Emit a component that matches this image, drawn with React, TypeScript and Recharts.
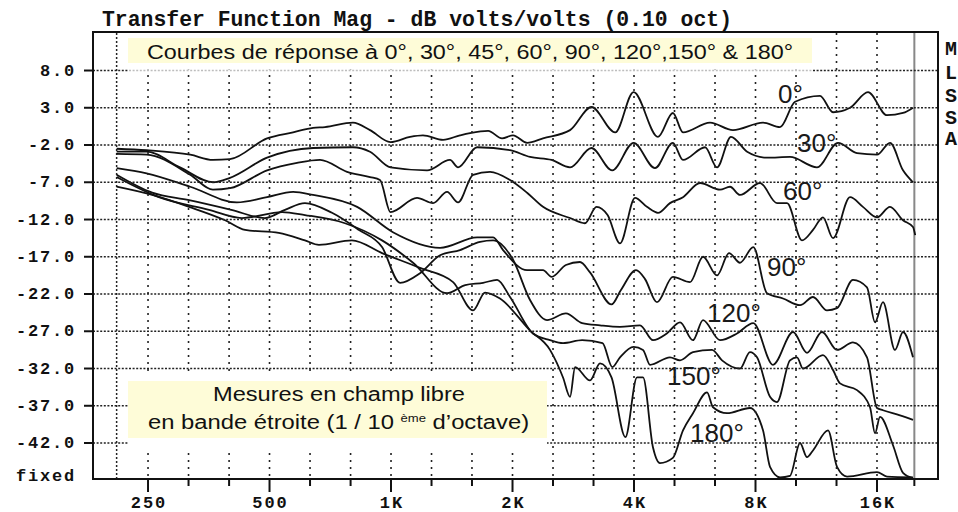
import React from "react";
import { LineChart, Line, XAxis, YAxis, ReferenceLine } from "recharts";

// frequency (Hz) / level (dB) pairs
const resp0 = [
  [209, -2.5], [248, -2.7], [318, -3.3], [362, -4.0], [399, -3.9], [493, -1.1], [572, -0.3],
  [641, 0.3], [686, 0.4], [805, 1.0], [887, 0.0], [997, -1.6], [1115, -0.9], [1200, -0.7],
  [1346, -1.3], [1482, -0.7], [1570, -0.4], [1740, -0.1], [1884, -1.1], [2006, -0.7],
  [2173, -1.7], [2380, -1.1], [2777, 0.0], [3138, 3.1], [3593, -0.3], [3990, 5.1],
  [4586, -0.9], [4993, 2.3], [5290, -0.3], [6171, 1.0], [7036, 0.0], [8350, 1.0], [9200, 0.4],
  [10025, 3.8], [11558, 4.6], [12449, 2.4], [13717, 3.0], [15200, 5.1], [16939, 2.0],
  [18560, 2.3], [19648, 3.0],
];
const resp30 = [
  [209, -2.9], [248, -2.9], [300, -5.0], [362, -7.0], [399, -6.4], [493, -3.7], [641, -2.4],
  [805, -2.3], [887, -2.9], [997, -5.0], [1228, -5.4], [1400, -4.0], [1466, -5.0], [1634, -2.3],
  [1972, -2.7], [2210, -3.6], [2500, -4.0], [2777, -5.0], [3138, -2.4], [3533, -5.4],
  [3990, -1.7], [4509, -5.1], [4993, -1.7], [5290, -4.0], [6000, -2.3], [6423, -5.0],
  [6956, -0.9], [7627, -2.9], [8542, -3.7], [9740, -3.6], [11361, -5.0], [12810, -1.7],
  [14277, -3.1], [16000, -3.3], [17232, -1.7], [18560, -5.4], [19648, -7.0],
];
const resp60 = [
  [209, -3.2], [248, -3.3], [318, -6.0], [362, -8.0], [399, -7.8], [493, -5.4], [585, -4.4],
  [667, -4.0], [778, -5.6], [887, -6.3], [939, -6.7], [997, -11.0], [1160, -9.1], [1271, -9.8],
  [1377, -8.3], [1466, -9.7], [1597, -6.0], [1759, -5.6], [1972, -6.7], [2173, -8.4],
  [2380, -10.3], [2777, -11.8], [3022, -12.5], [3230, -10.3], [3440, -11.4], [3693, -15.2],
  [4023, -9.1], [4306, -10.3], [4586, -11.1], [4911, -9.8], [5290, -9.0], [5829, -7.1],
  [6534, -8.0], [6917, -7.6], [7323, -8.7], [8209, -7.1], [9044, -9.8], [9575, -9.8],
  [10430, -14.8], [11106, -13.4], [11756, -11.7], [12449, -14.5], [13717, -9.0],
  [14765, -10.3], [16000, -11.7], [17232, -10.3], [18560, -12.1], [19648, -13.0], [19900, -14.1],
];
const resp90 = [
  [209, -5.1], [248, -5.8], [318, -7.6], [415, -9.7], [493, -9.0], [572, -8.3], [641, -8.7],
  [824, -10.3], [1011, -13.7], [1323, -15.8], [1634, -14.4], [1791, -14.4], [1895, -16.1],
  [2173, -18.8], [2380, -18.8], [2500, -19.7], [2712, -18.1], [2939, -17.7], [3112, -19.1],
  [3518, -23.4], [3709, -21.5], [4046, -18.8], [4260, -20.0], [4560, -23.1], [4993, -19.7],
  [5506, -20.4], [5930, -17.0], [6423, -19.5], [6880, -16.5], [7323, -17.8], [7900, -15.7],
  [8542, -21.9], [9358, -22.6], [10313, -23.5], [11106, -22.4], [12030, -24.2], [12737, -23.9],
  [13950, -20.1], [15112, -21.1], [15820, -25.8], [16557, -23.1], [17730, -29.5],
  [18560, -27.1], [19648, -30.5],
];
const resp120 = [
  [209, -6.0], [256, -8.4], [316, -9.4], [402, -10.7], [487, -11.8], [546, -10.7], [612, -9.8],
  [714, -11.1], [833, -13.4], [950, -15.7], [1053, -20.5], [1180, -19.2], [1323, -16.8],
  [1482, -16.1], [1662, -15.0], [1791, -14.8], [2006, -17.4], [2210, -22.8], [2435, -25.5],
  [2712, -24.6], [2975, -25.9], [3295, -26.2], [3693, -26.4], [4139, -26.2], [4458, -28.2],
  [4823, -27.3], [5201, -25.8], [5600, -28.2], [5930, -25.5], [6534, -28.2], [7199, -27.3],
  [7900, -25.9], [8839, -31.5], [9909, -27.1], [10733, -29.9], [11690, -27.1], [12737, -29.5],
  [13950, -28.5], [15112, -30.5], [16000, -37.3], [16557, -37.6], [18245, -38.3], [19648, -38.9],
];
const resp150 = [
  [209, -6.3], [266, -9.0], [354, -10.7], [427, -11.8], [537, -11.0], [612, -11.4], [769, -12.5],
  [950, -14.8], [1134, -17.8], [1377, -21.9], [1527, -20.8], [1691, -20.5], [1832, -20.1],
  [1972, -22.4], [2248, -27.3], [2477, -28.2], [2668, -28.6], [2975, -28.2], [3342, -28.6],
  [3533, -31.8], [3693, -30.5], [3990, -29.1], [4211, -29.5], [4383, -31.5], [4911, -30.5],
  [5201, -30.9], [5600, -29.8], [6242, -29.5], [6609, -30.9], [7323, -32.0], [7751, -29.8],
  [8070, -30.5], [8690, -35.8], [9044, -36.5], [9740, -30.9], [10136, -30.5], [10490, -32.0],
  [11756, -30.2], [12449, -32.2], [12957, -34.0], [14277, -34.9], [15375, -37.2],
  [15820, -40.7], [16277, -38.5], [17530, -42.3], [18560, -46.0], [19648, -46.7],
];
const resp180 = [
  [209, -7.6], [256, -8.7], [316, -10.3], [388, -12.1], [435, -13.4], [527, -13.8], [612, -14.8],
  [663, -15.4], [800, -14.8], [950, -16.5], [1180, -18.5], [1425, -20.4], [1597, -24.2],
  [1710, -21.8], [1862, -22.6], [2210, -26.9], [2477, -29.5], [2668, -33.2], [2777, -35.8],
  [2858, -31.8], [3112, -33.6], [3295, -31.3], [3518, -33.2], [3808, -41.2], [4069, -33.2],
  [4211, -33.2], [4458, -42.6], [4637, -44.7], [4993, -44.0], [5290, -40.3], [5600, -38.0],
  [6068, -35.2], [6278, -37.2], [6800, -38.0], [7751, -37.3], [8350, -40.3], [8690, -45.2],
  [9200, -46.6], [9740, -46.4], [10313, -42.0], [10733, -43.9], [11106, -43.0], [12099, -40.3],
  [12737, -45.2], [13484, -46.5], [16000, -45.9], [16939, -46.5], [19648, -46.6],
];

const curves = [resp0, resp30, resp60, resp90, resp120, resp150, resp180];
const curveNames = ["0°", "30°", "60°", "90°", "120°", "150°", "180°"];

const freqTicks = [250, 315, 397, 500, 630, 794, 1000, 1260, 1587, 2000, 2520, 3175, 4000, 5040, 6350, 8000, 10080, 12700, 16000, 19800];
const octaveLabels: Record<number, string> = { 250: "250", 500: "500", 1000: "1K", 2000: "2K", 4000: "4K", 8000: "8K", 16000: "16K" };
const dbGrid = [8, 3, -2, -7, -12, -17, -22, -27, -32, -37, -42];
const dbTicks = [...dbGrid, -46.4];

const MONO = "'Liberation Mono', 'Courier New', monospace";
const SANS = "'Liberation Sans', Arial, sans-serif";

// plot frame in page pixels (margins below put the plot here)
const PLOT_L = 93;
const PLOT_R = 938;
const PLOT_T = 33;
const PLOT_B = 478;

// y tick: label, small tick mark and the dotted horizontal grid line
const YTick = (props: any) => {
  const { y, payload } = props;
  const fixed = payload.value < -45;
  return (
    <g>
      {!fixed && <line x1={PLOT_L} x2={PLOT_R} y1={y} y2={y} stroke="#222" strokeWidth={1.6} strokeDasharray="2 1.6" />}
      {!fixed && <line x1={84} x2={92} y1={y} y2={y} stroke="#111" strokeWidth={2} />}
      <text x={76} y={y + 5} textAnchor="end" fontFamily={MONO} fontWeight="bold" fontSize={17} letterSpacing={1.8} fill="#111">
        {fixed ? "fixed" : payload.value.toFixed(1)}
      </text>
    </g>
  );
};

// x tick: mark below the frame, octave label and the dotted vertical grid line
const XTick = (props: any) => {
  const { x, payload } = props;
  const label = octaveLabels[payload.value];
  const last = payload.value === freqTicks[freqTicks.length - 1];
  return (
    <g>
      {!last && <line x1={x} x2={x} y1={PLOT_T} y2={PLOT_B} stroke="#222" strokeWidth={1.6} strokeDasharray="2 5" />}
      <line x1={x} x2={x} y1={479} y2={label ? 492 : 486} stroke="#111" strokeWidth={2} />
      {label && (
        <text x={x + 1} y={508} textAnchor="middle" fontFamily={MONO} fontWeight="bold" fontSize={17} letterSpacing={2} fill="#111">
          {label}
        </text>
      )}
    </g>
  );
};

export default function App() {
  const series = curves.map((c) => c.map(([f, db]) => ({ f, db })));
  return (
    <div style={{ position: "absolute", left: 0, top: 0, width: 958, height: 512, background: "#fff" }}>
      <LineChart width={958} height={512} margin={{ top: 32, right: 19, bottom: 0, left: 0 }}>
        <XAxis
          dataKey="f"
          type="number"
          scale="log"
          domain={[181.6, 22790]}
          allowDataOverflow
          ticks={freqTicks}
          interval={0}
          axisLine={false}
          tickLine={false}
          height={33}
          tick={<XTick />}
        />
        <YAxis
          type="number"
          domain={[-46.83, 13.17]}
          allowDataOverflow
          ticks={dbTicks}
          interval={0}
          axisLine={false}
          tickLine={false}
          width={92}
          tick={<YTick />}
        />
        <ReferenceLine x={209} stroke="#222" strokeWidth={1.5} strokeDasharray="2 2" />
        <ReferenceLine x={19800} stroke="#888" strokeWidth={2} />
        {series.map((d, i) => (
          <Line
            key={curveNames[i]}
            data={d}
            dataKey="db"
            type="monotone"
            stroke="#111"
            strokeWidth={1.8}
            dot={false}
            isAnimationActive={false}
          />
        ))}
      </LineChart>
      <svg width={958} height={512} style={{ position: "absolute", left: 0, top: 0, pointerEvents: "none" }}>
        <text x={102} y={26} fontFamily={MONO} fontWeight="bold" fontSize={21.5} textLength={630} lengthAdjust="spacingAndGlyphs" fill="#111">
          Transfer Function Mag - dB volts/volts (0.10 oct)
        </text>
        <rect x={93} y={32} width={845} height={447} fill="none" stroke="#111" strokeWidth={2} />
        <rect x={128} y={33} width={684} height={36} fill="#fff" />
        <rect x={128} y={69} width={684} height={5} fill="#fff" opacity={0.7} />
        <rect x={128} y={38} width={684} height={25} fill="#fefcd8" />
        <text x={147} y={59} fontFamily={SANS} fontSize={20} textLength={646} lengthAdjust="spacingAndGlyphs" fill="#111">
          Courbes de réponse à 0°, 30°, 45°, 60°, 90°, 120°,150° &amp; 180°
        </text>
        <rect x={128} y={372} width={419} height={76} fill="#fff" />
        <rect x={128} y={381} width={419} height={57} fill="#fefcd8" />
        <text x={213} y={401} fontFamily={SANS} fontSize={20} textLength={252} lengthAdjust="spacingAndGlyphs" fill="#111">
          Mesures en champ libre
        </text>
        <text transform="translate(148,429) scale(1.19,1)" fontFamily={SANS} fontSize={20} fill="#111">
          <tspan>en bande étroite (1 / 10 </tspan>
          <tspan fontSize={11} dy={-7}>ème</tspan>
          <tspan dy={7}> d’octave)</tspan>
        </text>
        {[
          { t: "0°", x: 778, y: 103 },
          { t: "30°", x: 797, y: 152 },
          { t: "60°", x: 783, y: 200 },
          { t: "90°", x: 767, y: 276 },
          { t: "120°", x: 707, y: 322 },
          { t: "150°", x: 667, y: 385 },
          { t: "180°", x: 690, y: 442 },
        ].map((l) => (
          <text key={l.t} x={l.x} y={l.y} fontFamily={SANS} fontSize={26} fill="#1a1a1a">
            {l.t}
          </text>
        ))}
        {["M", "L", "S", "S", "A"].map((ch, i) => (
          <text key={i} x={951} y={[55, 79, 102, 124, 145][i]} textAnchor="middle" fontFamily={MONO} fontWeight="bold" fontSize={20} fill="#111">
            {ch}
          </text>
        ))}
      </svg>
    </div>
  );
}
